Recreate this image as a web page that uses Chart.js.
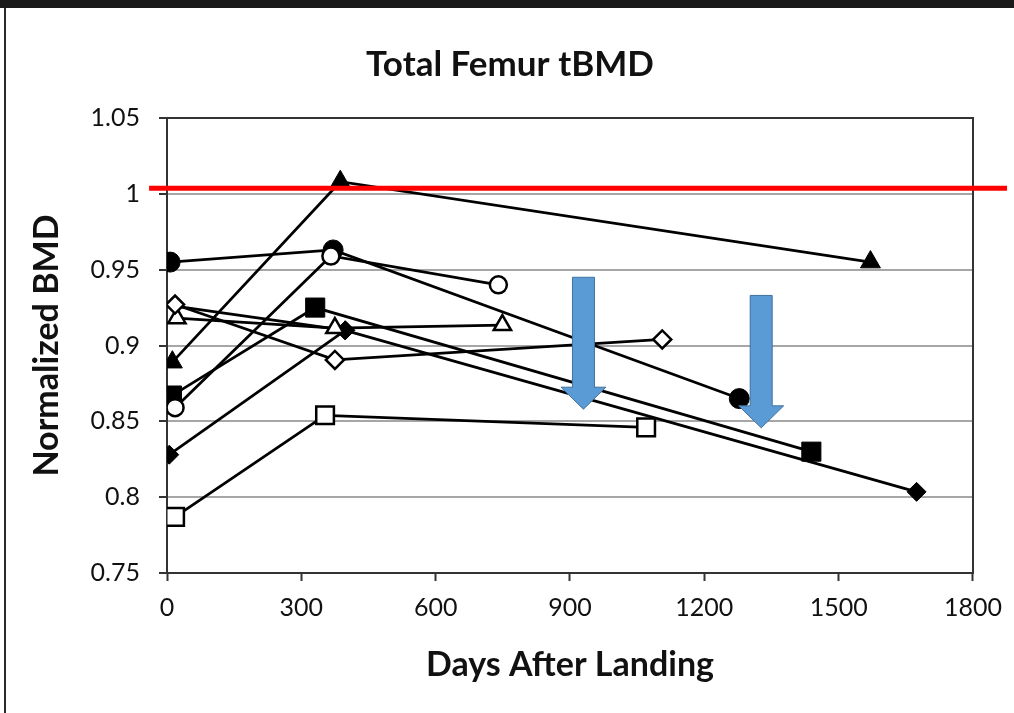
<!DOCTYPE html>
<html>
<head>
<meta charset="utf-8">
<script src="https://cdn.jsdelivr.net/npm/chart.js@4.4.1/dist/chart.umd.min.js"></script>
<style>
  html, body { margin: 0; padding: 0; background: #fff; }
  body { width: 1014px; height: 713px; position: relative; overflow: hidden; }
  canvas { position: absolute; left: 0; top: 0; }
  #topbar { position: absolute; left: 0; top: 0; width: 1014px; height: 8px; background: #1a1a1a; }
  #leftline { position: absolute; left: 4px; top: 8px; width: 2px; height: 705px; background: #2a2a2a; }
</style>
</head>
<body>
<canvas id="chart" width="1014" height="713"></canvas>
<div id="topbar"></div>
<div id="leftline"></div>
<script>
// axis ticks
const xTicks = [0, 300, 600, 900, 1200, 1500, 1800];
const xTickLabels = ['0', '300', '600', '900', '1200', '1500', '1800'];
const yTicks = [0.75, 0.8, 0.85, 0.9, 0.95, 1, 1.05];
const yTickLabels = ['0.75', '0.8', '0.85', '0.9', '0.95', '1', '1.05'];

// one series per subject: days after landing / normalized BMD
const openCircleDays = [18, 366, 740];
const openCircleBMD = [0.859, 0.959, 0.940];
const filledCircleDays = [7, 371, 1278];
const filledCircleBMD = [0.955, 0.963, 0.865];
const filledTriangleDays = [12, 387, 1571];
const filledTriangleBMD = [0.889, 1.008, 0.955];
const openTriangleDays = [22, 375, 749];
const openTriangleBMD = [0.918, 0.9115, 0.9135];
const openDiamondDays = [18, 375, 1106];
const openDiamondBMD = [0.927, 0.8905, 0.904];
const filledSquareDays = [11, 331, 1439];
const filledSquareBMD = [0.867, 0.925, 0.830];
// two subjects share the filled diamond marker; the first point of the
// upper one sits under the open diamond
const filledDiamondDays = [5, 398];
const filledDiamondBMD = [0.828, 0.910];
const filledDiamond2Days = [18, 398, 1674];
const filledDiamond2BMD = [0.926, 0.910, 0.8035];
const openSquareDays = [18, 353, 1070];
const openSquareBMD = [0.787, 0.854, 0.846];

// annotations
const refLineBMD = 1.0037;
const refLineDays = [-40, 1876];
const arrowDays = [930, 1327];
const arrowTopBMD = [0.945, 0.933];
const arrowTipBMD = [0.858, 0.8457];

function pts(days, vals) {
    return days.map((d, i) => ({x: d, y: vals[i]}));
}

function series(label, days, vals, style, filled, radius) {
    return {
        label: label,
        data: pts(days, vals),
        showLine: true,
        borderColor: '#000',
        borderWidth: 2.75,
        pointStyle: style,
        pointRadius: radius,
        pointBackgroundColor: filled ? '#000' : '#fff',
        pointBorderColor: '#000',
        pointBorderWidth: filled ? 1 : 2.5
    };
}

const overlay = {
    id: 'overlay',
    beforeDatasetsDraw(chart) {
        const {ctx, chartArea} = chart;
        ctx.save();
        ctx.strokeStyle = '#333';
        ctx.lineWidth = 2;
        ctx.strokeRect(chartArea.left, chartArea.top, chartArea.right - chartArea.left, chartArea.bottom - chartArea.top);
        ctx.restore();
    },
    afterDatasetsDraw(chart) {
        const {ctx, scales: {x, y}} = chart;
        ctx.save();
        // red reference line
        ctx.strokeStyle = '#ff0000';
        ctx.lineWidth = 5;
        ctx.beginPath();
        ctx.moveTo(x.getPixelForValue(refLineDays[0]), y.getPixelForValue(refLineBMD));
        ctx.lineTo(x.getPixelForValue(refLineDays[1]), y.getPixelForValue(refLineBMD));
        ctx.stroke();
        // blue arrows
        arrowDays.forEach((d, i) => {
            const cx = x.getPixelForValue(d);
            const top = y.getPixelForValue(arrowTopBMD[i]);
            const tip = y.getPixelForValue(arrowTipBMD[i]);
            const headTop = tip - 22;
            ctx.beginPath();
            ctx.moveTo(cx - 11, top);
            ctx.lineTo(cx + 11, top);
            ctx.lineTo(cx + 11, headTop);
            ctx.lineTo(cx + 22.5, headTop);
            ctx.lineTo(cx, tip);
            ctx.lineTo(cx - 22.5, headTop);
            ctx.lineTo(cx - 11, headTop);
            ctx.closePath();
            ctx.fillStyle = '#5b9bd5';
            ctx.fill();
            ctx.strokeStyle = '#41719c';
            ctx.lineWidth = 1;
            ctx.stroke();
        });
        ctx.restore();
    }
};

const diamond2 = series('Filled diamond 2', filledDiamond2Days, filledDiamond2BMD, 'rectRot', true, 9.5);
diamond2.pointRadius = [0, 9.5, 9.5];

const ctx = document.getElementById('chart').getContext('2d');
new Chart(ctx, {
    type: 'scatter',
    data: {
        datasets: [
            series('Open circle', openCircleDays, openCircleBMD, 'circle', false, 8.5),
            series('Filled circle', filledCircleDays, filledCircleBMD, 'circle', true, 10),
            series('Filled triangle', filledTriangleDays, filledTriangleBMD, 'triangle', true, 11.5),
            series('Open diamond', openDiamondDays, openDiamondBMD, 'rectRot', false, 9),
            series('Open triangle', openTriangleDays, openTriangleBMD, 'triangle', false, 10),
            series('Filled square', filledSquareDays, filledSquareBMD, 'rect', true, 13.5),
            series('Filled diamond', filledDiamondDays, filledDiamondBMD, 'rectRot', true, 9.5),
            diamond2,
            series('Open square', openSquareDays, openSquareBMD, 'rect', false, 12.5)
        ]
    },
    options: {
        responsive: false,
        animation: false,
        layout: {padding: {left: 6, right: 0, top: 0, bottom: 0}},
        plugins: {
            legend: {display: false},
            tooltip: {enabled: false},
            title: {
                display: true,
                text: 'Total Femur tBMD',
                color: '#111',
                font: {family: 'Lato', size: 35, weight: 'bold'},
                padding: {top: 43.5, bottom: 32.5}
            }
        },
        scales: {
            x: {
                type: 'linear',
                min: 0,
                max: 1800,
                afterBuildTicks: s => { s.ticks = xTicks.map(v => ({value: v})); },
                afterFit: s => { s.height = 140; },
                ticks: {
                    color: '#111',
                    font: {family: 'Lato', size: 25},
                    padding: 12,
                    maxRotation: 0,
                    callback: (v, i) => xTickLabels[i]
                },
                grid: {drawOnChartArea: false, tickLength: 8, tickColor: '#333', tickWidth: 2},
                border: {color: '#333', width: 2},
                title: {
                    display: true,
                    text: 'Days After Landing',
                    color: '#111',
                    font: {family: 'Lato', size: 34, weight: 'bold'},
                    padding: {top: 0, bottom: 27.6}
                }
            },
            y: {
                type: 'linear',
                min: 0.75,
                max: 1.05,
                afterBuildTicks: s => { s.ticks = yTicks.map(v => ({value: v})); },
                afterFit: s => { s.width = 161; },
                ticks: {
                    color: '#111',
                    font: {family: 'Lato', size: 25},
                    padding: 19,
                    callback: (v, i) => yTickLabels[i]
                },
                grid: {color: '#a6a6a6', lineWidth: 2, tickLength: 8, tickColor: '#333', tickWidth: 2},
                border: {color: '#333', width: 2},
                title: {
                    display: true,
                    text: 'Normalized BMD',
                    color: '#111',
                    font: {family: 'Lato', size: 34, weight: 'bold'},
                    padding: {top: 21, bottom: 0}
                }
            },
            yRight: {
                type: 'linear',
                position: 'right',
                min: 0,
                max: 1,
                afterFit: s => { s.width = 41; },
                ticks: {display: false},
                grid: {display: false},
                border: {display: false}
            }
        }
    },
    plugins: [overlay]
});
</script>
</body>
</html>
